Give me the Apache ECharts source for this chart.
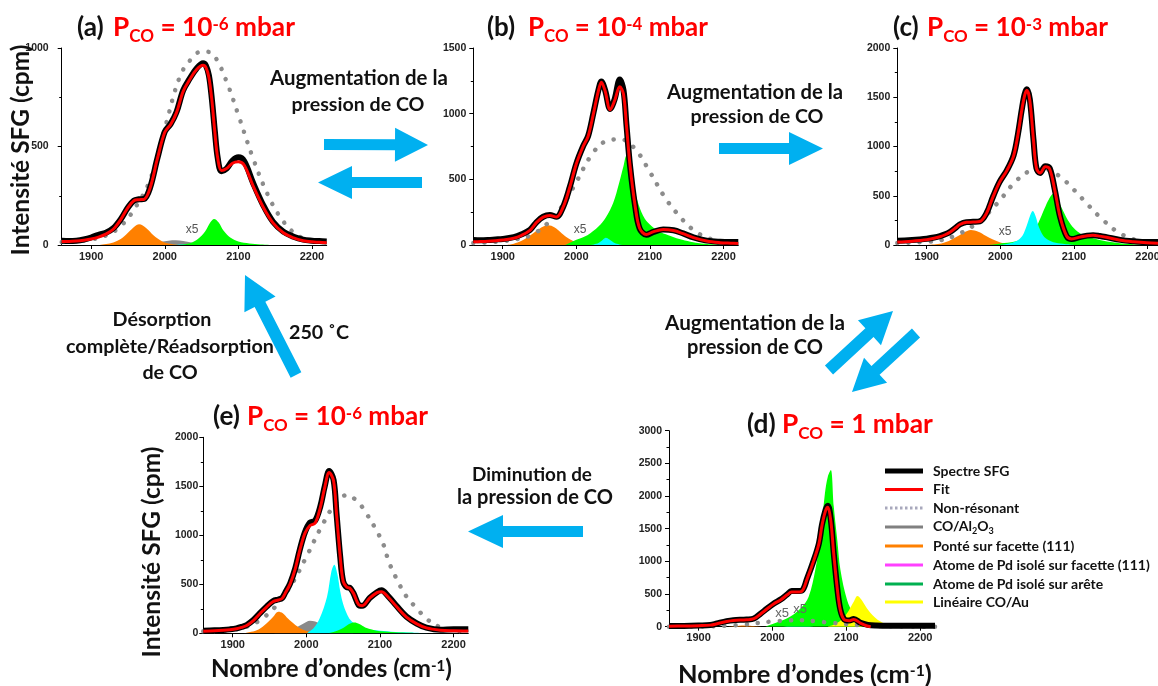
<!DOCTYPE html>
<html><head><meta charset="utf-8">
<script src="https://cdn.jsdelivr.net/npm/echarts@6/dist/echarts.min.js"></script>
<style>html,body{margin:0;padding:0;background:#fff}#c{width:1158px;height:686px}</style>
</head><body><div id="c"></div><script>
// ---------------- data ----------------
const xTicks = [1900, 2000, 2100, 2200];
const yMaxA = 1000, yMaxB = 1500, yMaxC = 2000, yMaxD = 3000, yMaxE = 2000;

// (a) P = 1e-6 mbar
const specA = [[1860,22],[1870,20],[1880,22],[1890,28],[1900,38],[1910,52],[1920,62],[1930,85],[1940,130],[1950,190],[1958,225],[1965,232],[1972,234],[1980,290],[1990,440],[2000,575],[2008,615],[2016,675],[2025,785],[2034,845],[2043,895],[2052,922],[2056,910],[2060,860],[2064,740],[2068,580],[2072,440],[2077,375],[2084,388],[2092,428],[2100,445],[2108,425],[2120,315],[2134,200],[2147,118],[2161,68],[2175,42],[2188,27],[2200,22],[2210,20],[2220,18]];
const fitA = [[1860,18],[1870,18],[1880,20],[1890,24],[1900,30],[1910,40],[1920,55],[1930,80],[1940,128],[1950,190],[1958,225],[1965,230],[1972,232],[1980,288],[1990,438],[2000,572],[2008,612],[2016,672],[2025,780],[2034,840],[2043,890],[2052,912],[2056,900],[2060,850],[2064,735],[2068,575],[2072,440],[2077,378],[2084,388],[2092,415],[2100,422],[2108,405],[2120,300],[2134,190],[2147,112],[2161,62],[2175,36],[2188,22],[2200,16],[2210,14],[2220,12]];
const nonresA = [[1860,15],[1880,20],[1900,28],[1920,48],[1940,95],[1960,190],[1980,330],[2000,590],[2020,850],[2035,940],[2050,982],[2060,980],[2070,945],[2085,820],[2100,660],[2120,440],[2140,255],[2160,125],[2180,50],[2200,22],[2220,15]];
const orangeA = [[1910,0],[1925,8],[1935,20],[1945,45],[1955,80],[1965,105],[1975,85],[1985,48],[1995,22],[2005,8],[2020,0]];
const greyA = [[1950,0],[1970,5],[1990,15],[2005,22],[2015,24],[2025,20],[2040,10],[2060,3],[2080,0]];
const cyanA = [[2010,0],[2030,4],[2045,6],[2060,4],[2080,0]];
const greenA = [[2020,0],[2035,10],[2045,30],[2055,70],[2062,115],[2067,132],[2073,115],[2080,72],[2090,35],[2100,18],[2115,8],[2130,3],[2150,0]];

// (b) P = 1e-4 mbar
const specB = [[1860,38],[1870,36],[1880,38],[1890,42],[1900,46],[1915,60],[1925,80],[1937,115],[1946,175],[1955,215],[1964,228],[1973,215],[1982,290],[1991,440],[2000,620],[2009,750],[2016,830],[2023,1000],[2030,1180],[2034,1245],[2039,1180],[2046,1035],[2052,1110],[2059,1260],[2064,1180],[2068,920],[2073,600],[2080,290],[2086,125],[2095,78],[2105,100],[2118,118],[2132,112],[2145,88],[2159,58],[2177,33],[2195,24],[2210,22],[2220,22]];
const fitB = [[1860,25],[1870,26],[1880,28],[1890,32],[1900,38],[1915,52],[1925,72],[1937,112],[1946,172],[1955,212],[1964,225],[1973,213],[1982,288],[1991,438],[2000,618],[2009,748],[2016,828],[2023,995],[2030,1175],[2034,1240],[2039,1175],[2046,1030],[2052,1100],[2059,1205],[2064,1150],[2068,915],[2073,600],[2080,292],[2086,128],[2095,80],[2105,102],[2118,118],[2132,110],[2145,86],[2159,56],[2177,30],[2195,18],[2210,14],[2220,12]];
const nonresB = [[1860,15],[1880,20],[1900,30],[1920,45],[1940,80],[1960,160],[1980,290],[2000,480],[2020,680],[2040,790],[2060,805],[2080,730],[2100,555],[2120,365],[2140,220],[2160,110],[2180,50],[2200,25],[2220,15]];
const orangeB = [[1905,0],[1915,10],[1925,30],[1935,65],[1945,105],[1955,140],[1962,150],[1970,135],[1980,90],[1990,48],[2000,22],[2010,8],[2025,0]];
const greyB = [[1980,0],[1995,8],[2010,15],[2025,10],[2040,3],[2055,0]];
const greenB = [[1985,0],[2000,40],[2015,75],[2030,140],[2040,210],[2050,320],[2058,470],[2064,600],[2068,680],[2073,590],[2078,450],[2085,300],[2093,200],[2102,145],[2112,105],[2125,75],[2140,45],[2155,25],[2170,12],[2190,4],[2210,0]];
const cyanB = [[2020,0],[2030,15],[2036,40],[2040,55],[2045,42],[2052,15],[2062,0]];

// (c) P = 1e-3 mbar
const specC = [[1860,44],[1870,46],[1880,50],[1890,56],[1900,64],[1910,76],[1918,90],[1925,108],[1932,135],[1940,180],[1945,210],[1954,232],[1963,235],[1972,240],[1981,320],[1990,490],[1999,640],[2009,760],[2018,910],[2024,1130],[2029,1370],[2033,1530],[2036,1580],[2040,1480],[2045,1070],[2049,780],[2054,730],[2061,800],[2067,780],[2074,560],[2081,290],[2090,90],[2097,60],[2108,80],[2118,95],[2126,100],[2135,92],[2144,80],[2163,52],[2181,38],[2199,30],[2220,30]];
const fitC = [[1860,30],[1870,33],[1880,38],[1890,45],[1900,54],[1910,68],[1918,84],[1925,104],[1932,132],[1940,178],[1945,208],[1954,230],[1963,233],[1972,238],[1981,318],[1990,488],[1999,638],[2009,758],[2018,905],[2024,1125],[2029,1365],[2033,1520],[2036,1570],[2040,1470],[2045,1065],[2049,780],[2054,730],[2061,795],[2067,772],[2074,555],[2081,290],[2090,92],[2097,62],[2108,80],[2118,94],[2126,98],[2135,90],[2144,78],[2163,48],[2181,32],[2199,22],[2220,18]];
const nonresC = [[1860,20],[1880,25],[1900,32],[1920,50],[1940,100],[1960,180],[1980,300],[2000,460],[2020,640],[2040,750],[2060,770],[2080,700],[2100,560],[2120,400],[2140,250],[2160,130],[2180,60],[2200,30],[2220,20]];
const orangeC = [[1895,0],[1910,6],[1920,16],[1930,40],[1940,80],[1950,125],[1960,152],[1970,135],[1980,95],[1990,55],[2000,25],[2010,10],[2025,0]];
const greenC = [[1985,0],[2000,15],[2020,35],[2035,70],[2045,130],[2052,230],[2060,370],[2066,465],[2072,520],[2078,460],[2085,350],[2092,250],[2100,170],[2110,110],[2120,80],[2130,60],[2140,42],[2160,20],[2180,8],[2200,0]];
const cyanC = [[2000,0],[2012,15],[2022,40],[2030,95],[2036,200],[2040,290],[2044,345],[2048,290],[2052,190],[2057,110],[2063,60],[2072,28],[2085,12],[2100,0]];

// (d) P = 1 mbar
const specD = [[1860,10],[1880,12],[1900,18],[1916,25],[1925,50],[1938,85],[1947,100],[1965,110],[1975,125],[1984,200],[1993,280],[2002,355],[2011,415],[2020,495],[2026,545],[2033,545],[2040,555],[2047,740],[2056,1020],[2063,1280],[2067,1560],[2072,1790],[2075,1850],[2079,1640],[2083,1120],[2088,560],[2092,255],[2097,115],[2104,95],[2110,118],[2119,60],[2129,28],[2140,18],[2160,15],[2180,15],[2200,15],[2220,15]];
const fitD = [[1860,8],[1880,10],[1900,16],[1916,24],[1925,45],[1938,80],[1947,96],[1965,106],[1975,122],[1984,195],[1993,275],[2002,350],[2011,410],[2020,488],[2026,530],[2033,530],[2040,545],[2047,735],[2056,1015],[2063,1275],[2067,1550],[2072,1780],[2075,1830],[2079,1620],[2083,1110],[2088,555],[2092,250],[2097,110],[2104,92],[2110,112],[2119,55],[2127,15],[2133,0]];
const nonresD = [[1860,0],[1900,5],[1940,15],[1960,30],[1980,55],[2000,80],[2020,95],[2040,100],[2060,80],[2080,60],[2100,40],[2120,22],[2140,12],[2160,5],[2220,0]];
const orangeD = [[1940,0],[1955,15],[1962,20],[1970,15],[1985,0]];
const cyanD = [[2015,0],[2028,25],[2035,40],[2042,25],[2055,0]];
const greenD = [[1990,0],[2002,50],[2020,128],[2038,280],[2049,460],[2058,870],[2065,1380],[2071,2040],[2075,2300],[2079,2400],[2083,1840],[2088,1300],[2092,870],[2101,410],[2110,205],[2124,82],[2142,30],[2165,0]];
const yellowD = [[2075,0],[2085,40],[2095,120],[2103,240],[2110,380],[2115,470],[2120,420],[2128,280],[2138,150],[2148,70],[2160,25],[2175,0]];

// (e) P = 1e-6 mbar (after desorption)
const specE = [[1860,27],[1875,30],[1887,34],[1896,40],[1905,50],[1912,65],[1919,85],[1928,135],[1937,205],[1946,272],[1955,330],[1962,345],[1967,360],[1971,410],[1978,510],[1985,665],[1991,850],[1998,1030],[2005,1130],[2012,1150],[2019,1295],[2025,1500],[2031,1655],[2037,1565],[2041,1220],[2046,780],[2050,530],[2055,470],[2059,465],[2064,410],[2071,290],[2076,280],[2086,360],[2096,420],[2102,440],[2111,380],[2123,275],[2136,170],[2150,100],[2163,58],[2182,36],[2200,42],[2220,42]];
const fitE = [[1860,22],[1875,25],[1887,30],[1896,36],[1905,46],[1912,60],[1919,80],[1928,130],[1937,200],[1946,268],[1955,325],[1962,340],[1967,355],[1971,405],[1978,505],[1985,660],[1991,845],[1998,1020],[2005,1100],[2012,1125],[2019,1285],[2025,1490],[2031,1640],[2037,1555],[2041,1215],[2046,780],[2050,530],[2055,470],[2059,462],[2064,408],[2071,292],[2076,282],[2086,358],[2096,415],[2102,425],[2111,370],[2123,268],[2136,165],[2150,96],[2163,55],[2182,32],[2200,26],[2220,24]];
const nonresE = [[1860,20],[1880,25],[1900,35],[1920,70],[1940,150],[1960,290],[1980,500],[2000,780],[2020,1080],[2040,1330],[2055,1410],[2070,1340],[2080,1240],[2093,1080],[2105,900],[2112,730],[2123,550],[2136,375],[2150,255],[2163,150],[2180,68],[2200,28],[2220,20]];
const orangeE = [[1915,0],[1925,15],[1935,40],[1945,95],[1955,170],[1962,220],[1968,205],[1975,150],[1985,85],[1995,40],[2005,15],[2020,0]];
const greyE = [[1955,0],[1965,10],[1975,25],[1985,55],[1995,95],[2005,128],[2012,120],[2020,92],[2030,58],[2040,32],[2050,15],[2065,0]];
const cyanE = [[2000,0],[2010,55],[2018,150],[2028,370],[2034,630],[2038,700],[2042,610],[2046,430],[2050,300],[2055,200],[2060,135],[2068,85],[2080,50],[2095,30],[2115,16],[2140,8],[2170,0]];
const greenE = [[2030,0],[2040,20],[2050,55],[2058,95],[2065,110],[2072,95],[2080,60],[2090,35],[2100,20],[2120,10],[2140,5],[2160,0]];

const legendLabels = ['Spectre SFG','Fit','Non-résonant','CO/Al2O3','Ponté sur facette (111)','Atome de Pd isolé sur facette (111)','Atome de Pd isolé sur arête','Linéaire CO/Au'];

// ---------------- styling ----------------
const COL = {orange:'#FF8000', grey:'#8A8A8A', cyan:'#00FFFF', green:'#00FF00', yellow:'#FFFF00'};
const BLUE = '#00B0F0', RED = '#FF0000';
const FF = 'Lato, "Open Sans", sans-serif';
const AF = '"Liberation Sans", Arial, sans-serif';

const grids = [
  {left:61.7, top:48, width:265, height:197},
  {left:473.3, top:48, width:265, height:197},
  {left:897.3, top:48, width:265, height:197},
  {left:669, top:430.7, width:266, height:196},
  {left:203.3, top:437.3, width:265, height:196}
].map(g => Object.assign({outerBoundsMode:'none', containLabel:false}, g));

const yMaxes = [yMaxA, yMaxB, yMaxC, yMaxD, yMaxE];
const yMargins = [13, 7, 7, 7, 5];
const plain = v => String(v);

const xAxes = grids.map((g,i) => ({
  gridIndex:i, type:'value', min:1860, max:2220,
  axisLine:{onZero:false, lineStyle:{color:'#000', width:1}},
  axisTick:{show:true, customValues:xTicks, length:4, lineStyle:{color:'#000'}},
  axisLabel:{customValues:xTicks, formatter:plain, fontFamily:AF, fontWeight:'bold', fontSize:11, color:'#222', margin:6},
  splitLine:{show:false}
}));
const yAxes = grids.map((g,i) => ({
  gridIndex:i, type:'value', min:0, max:yMaxes[i], interval:500,
  axisLine:{show:true, lineStyle:{color:'#000', width:1}},
  axisTick:{show:true, length:4, lineStyle:{color:'#000'}},
  minorTick:{show:true, splitNumber:2, length:2.5, lineStyle:{color:'#000'}},
  axisLabel:{formatter:plain, fontFamily:AF, fontWeight:'bold', fontSize:10.5, color:'#222', margin:yMargins[i]},
  splitLine:{show:false}
}));

const panels = [
  {areas:[[greyA,'grey'],[cyanA,'cyan'],[orangeA,'orange'],[greenA,'green']], nonres:nonresA, spec:specA, fit:fitA},
  {areas:[[greyB,'grey'],[orangeB,'orange'],[greenB,'green'],[cyanB,'cyan']], nonres:nonresB, spec:specB, fit:fitB},
  {areas:[[orangeC,'orange'],[greenC,'green'],[cyanC,'cyan']], nonres:nonresC, spec:specC, fit:fitC},
  {areas:[[orangeD,'orange'],[cyanD,'cyan'],[greenD,'green'],[yellowD,'yellow']], nonres:nonresD, spec:specD, fit:fitD},
  {areas:[[greyE,'grey'],[orangeE,'orange'],[cyanE,'cyan'],[greenE,'green']], nonres:nonresE, spec:specE, fit:fitE}
];

const series = [];
panels.forEach((p,i) => {
  const base = {type:'line', xAxisIndex:i, yAxisIndex:i, showSymbol:false, symbol:'none', silent:true, animation:false};
  p.areas.forEach(([d,c]) => series.push(Object.assign({}, base, {data:d, smooth:0.35, z:1, lineStyle:{width:0}, areaStyle:{color:COL[c], opacity:1}})));
  series.push(Object.assign({}, base, {data:p.nonres, smooth:0.4, z:2, lineStyle:{color:'#8C8C8C', width:4.5, type:[0.1,11], cap:'round'}}));
  series.push(Object.assign({}, base, {data:p.spec, smooth:0.35, z:3, lineStyle:{color:'#000', width:6, join:'round'}}));
  series.push(Object.assign({}, base, {data:p.fit, smooth:0.35, z:4, lineStyle:{color:RED, width:3, join:'round'}}));
});

// ---------------- text helpers ----------------
const cv = document.createElement('canvas').getContext('2d');
function tw(t, size, w, f){ cv.font = `${w||'bold'} ${size}px ${f||FF}`; return cv.measureText(t).width; }
const MID = 0.387;
function fitSize(t, width, w, f){ return 100*width/tw(t,100,w,f); }
function txt(t, x, y, size, opt){
  opt = opt||{};
  return {type:'text', x, y, rotation:opt.rot||0, silent:true, z:100,
    style:{text:t, font:`${opt.w||'bold'} ${size}px ${opt.f||FF}`, fill:opt.c||'#111',
      textAlign:opt.align||'center', textVerticalAlign:'middle', align:opt.align||'center', verticalAlign:'middle'}};
}
function centered(t, cx, cy, width, opt){ return txt(t, cx, cy, fitSize(t,width,(opt||{}).w,(opt||{}).f), opt); }
function runs(x0, base, targetW, parts, fixedSize){
  let tot = 0; parts.forEach(p => tot += tw(p.t, 100*(p.k||1)));
  const s = fixedSize || 100*targetW/tot;
  let x = x0; const els = [];
  parts.forEach(p => { const fs = s*(p.k||1);
    els.push(txt(p.t, x, base + (p.d||0)*s - MID*fs, fs, {align:'left', c:p.c||'#111'}));
    x += tw(p.t, fs); });
  return {els, s};
}
function title(letter, lx, px, endx, base, pparts){
  const r = runs(px, base, endx-px, pparts);
  const l = runs(lx, base, 0, [{t:letter, c:'#111'}], r.s);
  return l.els.concat(r.els);
}
const pco = (exp) => [{t:'P',c:RED},{t:'CO',k:0.65,d:0.2,c:RED},{t:exp===null?' = 1':' = 10',c:RED}]
  .concat(exp===null?[]:[{t:exp,k:0.65,d:-0.27,c:RED}]).concat([{t:' mbar',c:RED}]);

function arrow(tail, tip, sw, hw, hl){
  const dx = tip[0]-tail[0], dy = tip[1]-tail[1], L = Math.hypot(dx,dy);
  const ux = dx/L, uy = dy/L, nx = -uy, ny = ux;
  const bx = tip[0]-ux*hl, by = tip[1]-uy*hl;
  const P = (x,y,k) => [x+nx*k, y+ny*k];
  return {type:'polygon', silent:true, z:50, shape:{points:[
    P(tail[0],tail[1],sw/2), P(bx,by,sw/2), P(bx,by,hw/2), tip, P(bx,by,-hw/2), P(bx,by,-sw/2), P(tail[0],tail[1],-sw/2)]},
    style:{fill:BLUE}};
}

let G = [];
G = G.concat(title('(a)', 77, 113, 295, 38, pco('-6')));
G = G.concat(title('(b)', 487, 528, 708, 38, pco('-4')));
G = G.concat(title('(c)', 893, 927, 1108, 38, pco('-3')));
G = G.concat(title('(d)', 747, 782, 933, 435, pco(null)));
G = G.concat(title('(e)', 213, 247, 428, 427, pco('-6')));

G.push(arrow([324,144.5],[428,145],11,34,33));
G.push(arrow([422,182.5],[318,182.5],11,33,34));
G.push(arrow([719,148.5],[823,148.5],11,33,34));
G.push(arrow([829,370],[893,311],12,34,32));
G.push(arrow([916,333],[852,392],12,34,32));
G.push(arrow([583,531.5],[468,531.5],11,33,35));
G.push(arrow([296,375],[245,275],12,35,33));

G.push(centered('Augmentation de la', 359, 78, 178));
G.push(centered('pression de CO', 358, 105, 133));
G.push(centered('Augmentation de la', 755, 92, 176));
G.push(centered('pression de CO', 757, 117, 133));
G.push(centered('Augmentation de la', 755, 323, 180));
G.push(centered('pression de CO', 755, 348, 136));
G.push(centered('Diminution de', 532, 475, 120));
G.push(centered('la pression de CO', 535, 498, 156));
const desSize = fitSize('Désorption', 99);
G.push(txt('Désorption', 162, 320, desSize));
G.push(txt('complète/Réadsorption', 170, 347, desSize));
G.push(txt('de CO', 170, 373, desSize));
G.push(txt('250 ˚C', 319, 333, desSize));

G.push(centered('Intensité SFG (cpm)', 21, 150, 211, {rot:Math.PI/2}));
G.push(centered('Intensité SFG (cpm)', 152, 552, 211, {rot:Math.PI/2}));
const xname = [{t:'Nombre d’ondes (cm'},{t:'-1',k:0.62,d:-0.3},{t:')'}];
G = G.concat(runs(211, 679, 241, xname).els);
G = G.concat(runs(678, 685, 254, xname).els);

[[192,230],[580,230],[1005,232]].forEach(([x,y]) => G.push(txt('x5', x, y, 12, {w:'normal', f:AF, c:'#555'})));
G.push(txt('x5', 782, 613, 13, {w:'normal', f:AF, c:'#666'}));
G.push(txt('x5', 800, 609, 13, {w:'normal', f:AF, c:'#666'}));

const legY = [471, 489.5, 508, 527, 546, 565, 584, 602];
const legStyles = [
  {stroke:'#000', lineWidth:5}, {stroke:'#FF0000', lineWidth:3}, {stroke:'#A8A8BC', lineWidth:3, lineDash:[2.5,2.5]},
  {stroke:'#808080', lineWidth:3}, {stroke:'#FF8000', lineWidth:3}, {stroke:'#FF40FF', lineWidth:3},
  {stroke:'#00B050', lineWidth:3}, {stroke:'#FFFF00', lineWidth:3}];
const legSize = fitSize(legendLabels[5], 217);
legY.forEach((y,i) => {
  G.push({type:'line', silent:true, z:60, shape:{x1:885, y1:y, x2:923, y2:y}, style:legStyles[i]});
  if (i === 3) {
    G = G.concat(runs(933, y + 0.36*legSize, 0, [{t:'CO/Al'},{t:'2',k:0.65,d:0.2},{t:'O'},{t:'3',k:0.65,d:0.2}], legSize).els);
  } else {
    G.push(txt(legendLabels[i], 933, y, legSize, {align:'left'}));
  }
});

const chart = echarts.init(document.getElementById('c'), null, {renderer:'canvas'});
chart.setOption({
  animation:false, backgroundColor:'#fff',
  grid:grids, xAxis:xAxes, yAxis:yAxes, series:series, graphic:G
});
</script></body></html>
